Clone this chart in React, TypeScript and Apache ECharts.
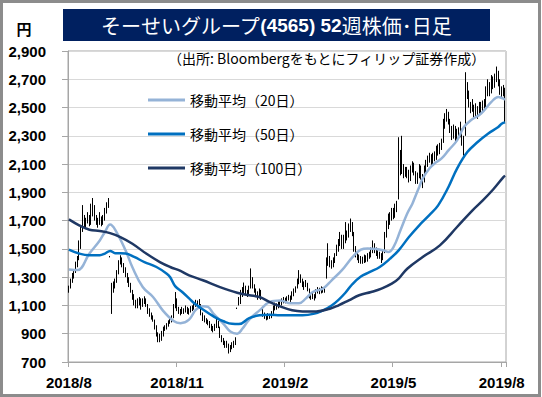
import React, { useEffect, useRef } from "react";
import * as echarts from "echarts";

// Daily candles: [open, close, low, high] (yen), about 52 weeks, Aug 2018 – Aug 2019
const ohlc: number[][] = [
  [1200,1220,1190,1240],[1230,1260,1220,1290],[1270,1310,1260,1330],[1300,1330,1290,1350],[1340,1390,1330,1410],
  [1380,1420,1370,1450],[1430,1500,1420,1560],[1520,1620,1500,1660],[1640,1700,1620,1810],[1710,1680,1650,1740],
  [1670,1690,1640,1720],[1700,1720,1680,1760],[1720,1680,1660,1740],[1690,1750,1670,1820],[1760,1800,1730,1860],
  [1790,1730,1700,1810],[1720,1700,1670,1740],[1700,1680,1650,1720],[1690,1710,1670,1760],[1710,1690,1660,1730],
  [1690,1700,1670,1740],[1710,1760,1700,1790],[1770,1800,1750,1830],[1810,1850,1790,1860],[1450,1450,1440,1450],
  [1150,1200,1040,1260],[1210,1240,1190,1270],[1240,1250,1220,1290],[1270,1330,1260,1350],[1340,1400,1320,1420],
  [1410,1440,1390,1455],[1430,1390,1370,1440],[1380,1360,1330,1400],[1360,1320,1300,1370],[1320,1280,1260,1330],
  [1280,1250,1230,1300],[1250,1210,1190,1260],[1200,1160,1140,1210],[1160,1120,1100,1180],[1120,1100,1080,1140],
  [1100,1120,1080,1150],[1120,1140,1100,1160],[1140,1100,1070,1150],[1100,1130,1090,1150],[1130,1150,1110,1165],
  [1140,1110,1090,1150],[1100,1060,1040,1110],[1060,1040,1020,1080],[1040,1010,1000,1050],[1010,1000,985,1030],
  [990,950,930,1000],[950,900,880,960],[900,860,840,910],[860,870,840,900],[870,900,850,920],
  [900,930,880,950],[930,940,920,960],[940,960,930,975],[960,980,950,995],[980,990,970,1005],
  [990,1010,980,1030],[1020,1090,1010,1110],[1100,1150,1080,1195],[1140,1080,1060,1150],[1080,1060,1040,1090],
  [1060,1050,1030,1075],[1050,1070,1040,1090],[1070,1060,1040,1080],[1060,1080,1050,1100],[1080,1050,1040,1090],
  [1050,1060,1035,1080],[1060,1070,1050,1095],[1070,1080,1060,1100],[1080,1100,1070,1120],[1100,1120,1090,1140],
  [1120,1110,1090,1135],[1110,1130,1100,1145],[1100,1040,1030,1110],[1040,1010,990,1050],[1010,1000,980,1030],
  [1000,990,970,1010],[990,980,960,1000],[970,960,940,990],[960,940,920,970],[940,930,910,955],
  [930,950,920,970],[950,990,940,1010],[980,960,940,990],[940,880,870,950],[880,860,840,890],
  [860,840,820,870],[840,820,800,850],[820,830,800,850],[820,790,760,830],[790,800,770,820],
  [800,820,790,840],[820,830,800,850],[830,860,820,875],[1080,1080,1075,1085],[1100,1120,1100,1160],
  [1130,1180,1110,1210],[1180,1200,1160,1230],[1200,1230,1180,1262],[1230,1200,1180,1240],[1200,1180,1160,1210],
  [1180,1220,1170,1240],[1230,1300,1220,1362],[1290,1240,1220,1300],[1240,1210,1190,1250],[1210,1180,1160,1220],
  [1180,1160,1140,1200],[1160,1200,1150,1220],[1200,1170,1140,1210],[1080,1040,1020,1090],[1040,1020,1005,1050],
  [1020,1010,995,1035],[1010,1030,1000,1045],[1030,1020,1005,1040],[1020,1040,1010,1060],[1050,1080,1040,1100],
  [1080,1100,1065,1120],[1100,1090,1070,1115],[1090,1120,1080,1135],[1120,1110,1095,1135],[1110,1130,1100,1150],
  [1130,1140,1115,1160],[1140,1130,1115,1155],[1130,1150,1120,1165],[1150,1160,1135,1175],[1160,1140,1125,1170],
  [1150,1180,1140,1200],[1180,1200,1165,1220],[1200,1220,1190,1235],[1230,1260,1220,1290],[1260,1300,1250,1350],
  [1300,1290,1260,1320],[1280,1250,1230,1290],[1250,1240,1210,1270],[1240,1260,1230,1280],[1250,1220,1200,1260],
  [1210,1170,1150,1220],[1170,1160,1140,1185],[1160,1180,1145,1190],[1170,1150,1135,1180],[1160,1200,1150,1215],
  [1200,1210,1185,1230],[1210,1190,1180,1225],[1190,1220,1185,1235],[1220,1200,1190,1230],[1200,1210,1190,1230],
  [1300,1380,1290,1440],[1400,1420,1380,1540],[1420,1400,1370,1450],[1400,1380,1360,1420],[1380,1420,1370,1440],
  [1420,1450,1400,1470],[1460,1500,1450,1530],[1500,1540,1480,1570],[1540,1580,1520,1620],[1580,1520,1500,1600],
  [1520,1560,1500,1600],[1560,1600,1540,1690],[1600,1580,1560,1630],[1590,1650,1580,1680],[1650,1680,1620,1715],
  [1670,1620,1590,1690],[1610,1520,1480,1620],[1510,1460,1440,1520],[1460,1440,1420,1475],[1440,1420,1400,1460],
  [1420,1430,1395,1450],[1430,1410,1395,1445],[1410,1440,1400,1460],[1440,1420,1405,1455],[1420,1450,1410,1470],
  [1450,1460,1430,1480],[1460,1480,1440,1510],[1480,1520,1470,1560],[1520,1500,1470,1540],[1500,1470,1450,1510],
  [1470,1450,1430,1490],[1450,1460,1430,1480],[1460,1430,1400,1470],[1430,1470,1420,1490],[1480,1600,1470,1620],
  [1600,1660,1580,1700],[1660,1700,1640,1750],[1700,1720,1670,1760],[1720,1760,1700,1790],[1760,1740,1710,1790],
  [1740,1780,1720,1820],[1780,1820,1760,1840],[1850,2150,1850,2290],[2150,2050,2020,2200],[2060,2080,2030,2300],
  [2080,2030,2000,2100],[2030,2060,2010,2080],[2060,2040,2000,2080],[2040,2000,1970,2060],[2000,2060,1980,2090],
  [2060,2100,2040,2120],[2100,2040,2020,2110],[2040,1980,1960,2050],[1980,2010,1960,2040],[2010,2080,2000,2100],
  [2080,2020,1990,2090],[2020,1980,1930,2030],[1980,2050,1970,2090],[2050,2100,2040,2130],[2100,2130,2080,2160],
  [2130,2150,2110,2180],[2150,2110,2080,2170],[2110,2160,2100,2180],[2160,2140,2120,2190],[2140,2200,2130,2230],
  [2200,2180,2160,2240],[2180,2230,2170,2250],[2230,2250,2200,2280],[2260,2380,2250,2420],[2380,2420,2350,2460],
  [2420,2460,2400,2490],[2460,2400,2380,2470],[2400,2350,2320,2420],[2350,2300,2270,2370],[2300,2350,2280,2380],
  [2350,2280,2260,2370],[2280,2320,2260,2350],[2320,2300,2280,2360],[2300,2340,2290,2400],[2340,2250,2230,2350],
  [2250,2280,2160,2300],[2300,2650,2300,2750],[2650,2600,2560,2680],[2600,2520,2500,2620],[2520,2480,2460,2540],
  [2480,2500,2470,2560],[2500,2460,2430,2520],[2460,2500,2440,2530],[2500,2470,2420,2510],[2470,2520,2450,2540],
  [2520,2490,2460,2540],[2490,2530,2470,2550],[2530,2500,2480,2560],[2510,2600,2500,2650],[2600,2650,2580,2700],
  [2650,2620,2580,2680],[2620,2700,2600,2730],[2700,2660,2630,2720],[2660,2700,2640,2740],[2700,2740,2680,2790],
  [2740,2680,2650,2760],[2680,2620,2590,2700],[2620,2600,2560,2650],[2600,2640,2580,2660],[2630,2420,2395,2640],
];

// Moving averages: [candle index, yen]
const ma20: number[][] = [
  [0,1355],[5,1350],[12,1468],[18,1560],[21,1620],[24,1672],[27,1635],[33,1490],[37,1370],[43,1230],
  [49,1160],[55,1060],[61,990],[65,975],[70,1000],[74,1070],[78,1095],[81,1090],[84,1045],[90,970],
  [94,915],[98,900],[101,935],[105,1000],[111,1065],[117,1125],[123,1135],[129,1115],[134,1115],[138,1150],
  [142,1195],[148,1220],[153,1278],[159,1350],[165,1440],[170,1495],[174,1503],[179,1500],[183,1490],[186,1478],
  [189,1513],[193,1630],[197,1750],[200,1820],[202,1880],[204,1938],[206,1998],[210,2070],[213,2105],[217,2140],
  [221,2197],[226,2268],[230,2362],[234,2410],[240,2458],[246,2540],[250,2575],[252,2568],[254,2555],
];
const ma50: number[][] = [
  [0,1495],[6,1467],[12,1455],[18,1455],[21,1467],[24,1485],[27,1470],[33,1467],[38,1443],[44,1407],
  [51,1372],[57,1325],[59,1300],[62,1235],[66,1195],[70,1150],[73,1115],[77,1080],[82,1040],[86,1010],
  [90,988],[95,970],[99,968],[105,1010],[111,1030],[117,1035],[123,1030],[130,1030],[136,1030],[143,1042],
  [148,1065],[153,1100],[157,1140],[161,1190],[165,1250],[170,1305],[175,1335],[181,1372],[187,1431],[192,1490],
  [198,1584],[204,1667],[210,1740],[215,1808],[221,1938],[226,2068],[232,2185],[238,2256],[244,2315],[250,2362],
  [252,2386],[254,2395],
];
const ma100: number[][] = [
  [0,1709],[6,1667],[12,1636],[18,1627],[24,1612],[30,1584],[37,1537],[45,1467],[53,1407],[59,1372],
  [65,1344],[70,1313],[78,1278],[88,1230],[98,1190],[105,1172],[111,1160],[117,1124],[123,1094],[130,1066],
  [136,1058],[144,1058],[152,1077],[157,1101],[163,1136],[169,1172],[176,1195],[182,1219],[188,1254],[192,1290],
  [197,1360],[206,1443],[216,1525],[226,1655],[235,1773],[241,1843],[247,1920],[253,2008],[254,2018],
];

const legendNames = ["移動平均（20日）", "移動平均（50日）", "移動平均（100日）"];
const xTickIndex = [0, 63, 126, 189, 252];
const xTickLabels = ["2018/8", "2018/11", "2019/2", "2019/5", "2019/8"];
const yMin = 700;
const yMax = 2900;
const yStep = 200;

const title = "そーせいグループ";
const titleCode = "(4565) 52";
const titleTail = "週株価･日足";
const source = "（出所: Bloombergをもとにフィリップ証券作成）";

export default function App() {
  const ref = useRef<HTMLDivElement>(null);
  useEffect(() => {
    if (!ref.current) return;
    const chart = echarts.init(ref.current, undefined, { renderer: "svg" });
    const categories = ohlc.map((_, i) => String(i));
    const isTick = (i: number) => xTickIndex.indexOf(i) >= 0;
    const jp = "'Noto Sans CJK JP', 'Noto Sans', sans-serif";
    const num = "'Liberation Sans', Arial, sans-serif";
    chart.setOption({
      animation: false,
      backgroundColor: "#ffffff",
      grid: {
        left: 68,
        right: 36,
        top: 51,
        bottom: 35,
        show: true,
        borderColor: "#a6a6a6",
        borderWidth: 1,
        backgroundColor: "transparent",
      },
      legend: {
        data: legendNames,
        orient: "vertical",
        left: 143,
        top: 88,
        itemWidth: 37,
        itemHeight: 3,
        itemGap: 20,
        icon: "rect",
        textStyle: { fontSize: 14, color: "#000", fontFamily: jp },
      },
      xAxis: {
        type: "category",
        data: categories,
        boundaryGap: true,
        axisLine: { lineStyle: { color: "#a6a6a6" } },
        axisTick: {
          show: true,
          length: 5,
          interval: (i: number) => isTick(i),
          lineStyle: { color: "#a6a6a6" },
        },
        axisLabel: {
          interval: (i: number) => isTick(i),
          formatter: (_v: string, i: number) => {
            const k = xTickIndex.indexOf(i);
            return k >= 0 ? xTickLabels[k] : "";
          },
          fontSize: 15,
          fontWeight: "bold",
          color: "#000",
          fontFamily: num,
          margin: 13,
        },
        splitLine: { show: false },
      },
      yAxis: {
        type: "value",
        min: yMin,
        max: yMax,
        interval: yStep,
        axisLine: { show: true, lineStyle: { color: "#a6a6a6" } },
        axisTick: { show: true, length: 6, lineStyle: { color: "#a6a6a6" } },
        axisLabel: {
          formatter: (v: number) => v.toLocaleString("en-US"),
          fontSize: 15,
          fontWeight: "bold",
          color: "#000",
          fontFamily: num,
          margin: 22,
        },
        splitLine: { show: true, lineStyle: { color: "#d9d9d9", width: 1 } },
      },
      series: [
        {
          type: "candlestick",
          name: "株価",
          data: ohlc,
          barWidth: 1,
          itemStyle: {
            color: "#000",
            color0: "#000",
            borderColor: "#000",
            borderColor0: "#000",
            borderWidth: 1,
          },
        },
        {
          type: "line",
          name: legendNames[0],
          data: ma20,
          showSymbol: false,
          smooth: 0.4,
          lineStyle: { color: "#95b3d7", width: 2.5 },
          itemStyle: { color: "#95b3d7" },
          z: 3,
        },
        {
          type: "line",
          name: legendNames[1],
          data: ma50,
          showSymbol: false,
          smooth: 0.4,
          lineStyle: { color: "#0070c0", width: 2.5 },
          itemStyle: { color: "#0070c0" },
          z: 3,
        },
        {
          type: "line",
          name: legendNames[2],
          data: ma100,
          showSymbol: false,
          smooth: 0.4,
          lineStyle: { color: "#1f3864", width: 2.5 },
          itemStyle: { color: "#1f3864" },
          z: 3,
        },
      ],
      graphic: [
        {
          type: "rect",
          shape: { x: 1.5, y: 1.5, width: 538, height: 394 },
          style: { fill: "none", stroke: "#8c8c8c", lineWidth: 3 },
          silent: true,
        },
        {
          type: "rect",
          shape: { x: 63, y: 9, width: 427, height: 32 },
          style: { fill: "#002060" },
          silent: true,
        },
        {
          type: "text",
          x: 276,
          y: 25,
          style: {
            text: `{a|${title}}{b|${titleCode}}{a|${titleTail}}`,
            align: "center",
            verticalAlign: "middle",
            fill: "#ffffff",
            rich: {
              a: { fontSize: 20, fill: "#ffffff", fontFamily: jp },
              b: { fontSize: 19, fill: "#ffffff", fontWeight: "bold", fontFamily: num },
            },
          },
          silent: true,
        },
        {
          type: "text",
          x: 24,
          y: 28,
          style: {
            text: "円",
            align: "center",
            verticalAlign: "middle",
            fontSize: 15,
            fontWeight: "bold",
            fill: "#000",
            fontFamily: jp,
          },
          silent: true,
        },
        {
          type: "text",
          x: 168,
          y: 58,
          style: {
            text: source,
            align: "left",
            verticalAlign: "middle",
            fontSize: 14,
            fill: "#000",
            fontFamily: jp,
          },
          silent: true,
        },
      ],
    });
    return () => chart.dispose();
  }, []);
  return (
    <div
      ref={ref}
      style={{ position: "fixed", left: 0, top: 0, width: 542, height: 397, background: "#fff" }}
    />
  );
}
